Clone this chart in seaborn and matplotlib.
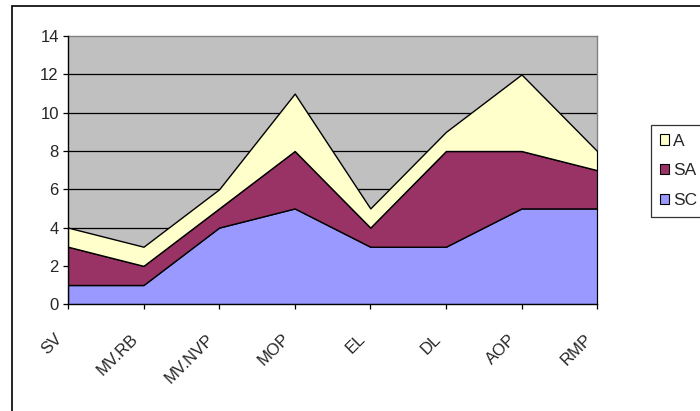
import matplotlib
matplotlib.use("Agg")
import matplotlib.pyplot as plt
import matplotlib.patches as mpatches
import matplotlib.transforms as mtransforms
import seaborn as sns

# Data
categories = ["SV", "MV.RB", "MV.NVP", "MOP", "EL", "DL", "AOP", "RMP"]
sc_values = [1, 1, 4, 5, 3, 3, 5, 5]
sa_values = [2, 1, 1, 3, 1, 5, 3, 2]
a_values = [1, 1, 1, 3, 1, 1, 4, 1]
series_names = ["SC", "SA", "A"]
series_colors = ["#9999FF", "#993366", "#FFFFCC"]
y_ticks = [0, 2, 4, 6, 8, 10, 12, 14]

sns.set_style("white")
plt.rcParams["font.family"] = ["Liberation Sans", "DejaVu Sans"]

fig = plt.figure(figsize=(7, 4.11), dpi=100)
ax = fig.add_axes([0.097, 0.260, 0.756, 0.652])

x = list(range(len(categories)))
ax.set_facecolor("#C0C0C0")
ax.stackplot(x, sc_values, sa_values, a_values,
             colors=series_colors, edgecolor="black", linewidth=1, zorder=3)

# gridlines
for yv in y_ticks[1:-1]:
    ax.axhline(yv, color="black", linewidth=0.9, zorder=1)

ax.set_xlim(0, len(categories) - 1)
ax.set_ylim(0, 14)
ax.set_yticks(y_ticks)
ax.set_xticks(x)
ax.set_xticklabels(categories, rotation=45, ha="right", va="top",
                   rotation_mode="anchor")
ax.tick_params(axis="both", direction="out", length=3.5, width=0.9,
               color="black", labelsize=12, left=True, bottom=True)
ax.tick_params(axis="x", pad=16)
ax.tick_params(axis="y", pad=3)

# shift x labels left like the original
shift = mtransforms.ScaledTranslation(-13 / 100, 0, fig.dpi_scale_trans)
for lbl in ax.get_xticklabels():
    lbl.set_transform(lbl.get_transform() + shift)

for side in ["left", "bottom"]:
    ax.spines[side].set_color("black")
    ax.spines[side].set_linewidth(1)
    ax.spines[side].set_zorder(5)
for side in ["top", "right"]:
    ax.spines[side].set_visible(True)
    ax.spines[side].set_color("#808080")
    ax.spines[side].set_linewidth(1)

# legend (A, SA, SC from top)
handles = [mpatches.Patch(facecolor=c, edgecolor="black", linewidth=0.8, label=n)
           for n, c in zip(series_names, series_colors)][::-1]
leg = fig.legend(handles=handles, loc="upper left", bbox_to_anchor=(0.930, 0.696),
                 frameon=True, fancybox=False, fontsize=12.5, handlelength=0.55,
                 handleheight=0.55, handletextpad=0.2, labelspacing=0.85,
                 borderpad=0.5, borderaxespad=0)
leg.get_frame().set_edgecolor("black")
leg.get_frame().set_linewidth(0.9)

# outer chart border
fig.patches.append(mpatches.Rectangle((12 / 700, -0.1), 1.0, 1 - 6 / 411 + 0.1,
                                      transform=fig.transFigure, fill=False,
                                      edgecolor="black", linewidth=1.2))

fig.savefig("out.png", dpi=100)
